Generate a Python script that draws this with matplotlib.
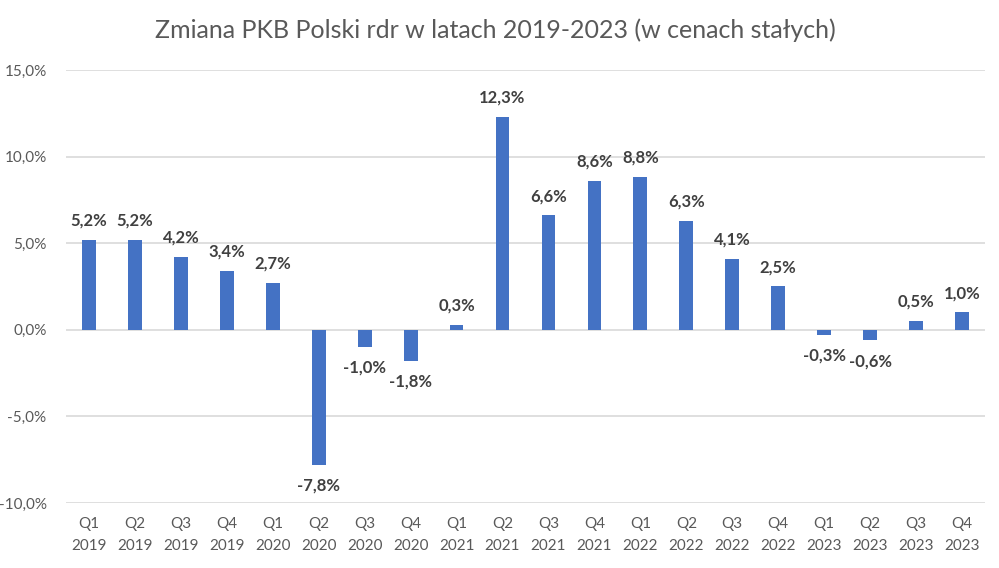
import matplotlib
matplotlib.use("Agg")
import matplotlib.pyplot as plt
from matplotlib.ticker import FuncFormatter

quarters = ["Q1", "Q2", "Q3", "Q4"] * 5
years = ["2019"] * 4 + ["2020"] * 4 + ["2021"] * 4 + ["2022"] * 4 + ["2023"] * 4
values = [5.2, 5.2, 4.2, 3.4, 2.7, -7.8, -1.0, -1.8, 0.3, 12.3,
          6.6, 8.6, 8.8, 6.3, 4.1, 2.5, -0.3, -0.6, 0.5, 1.0]
labels = [f"{q}\n{y}" for q, y in zip(quarters, years)]
yticks = [-10, -5, 0, 5, 10, 15]

plt.rcParams['font.family'] = ['Lato', 'DejaVu Sans']

fig = plt.figure(figsize=(9.99, 5.68), dpi=100)
ax = fig.add_axes([66/999, 1-503/568, (985-66)/999, (503-70)/568])

x = list(range(len(values)))
ax.bar(x, values, width=0.3, color="#4472C4", zorder=3)

for xi, v in zip(x, values):
    txt = f"{v:.1f}%".replace(".", ",")
    off = 14 if v >= 0 else -15
    ax.annotate(txt, (xi, v), xytext=(0, off), textcoords="offset points",
                ha="center", va="center", fontsize=12, fontweight="bold",
                color="#404040")

ax.set_xlim(-0.5, len(values) - 0.5)
ax.set_ylim(-10, 15)
ax.set_yticks(yticks)
ax.yaxis.set_major_formatter(FuncFormatter(lambda v, p: f"{v:.1f}%".replace(".", ",")))
ax.grid(axis="y", color="#D9D9D9", linewidth=1.2, zorder=0)
ax.set_xticks(x)
ax.set_xticklabels(labels, fontsize=11, color="#595959", linespacing=1.75)
ax.tick_params(axis="y", labelsize=11, labelcolor="#595959", length=0, pad=14)
ax.tick_params(axis="x", length=0, pad=10)
for s in ax.spines.values():
    s.set_visible(False)

fig.text(495/999, 1-30/568, "Zmiana PKB Polski rdr w latach 2019-2023 (w cenach stałych)",
         ha="center", va="center", fontsize=18, color="#595959")

fig.savefig("out.png", dpi=100)
